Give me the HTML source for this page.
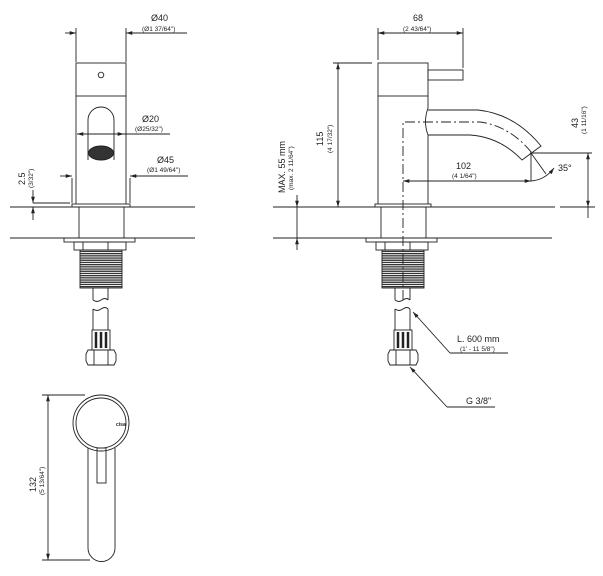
<!DOCTYPE html>
<html><head><style>
html,body{margin:0;padding:0;background:#fff;}
svg{display:block;}
text{font-family:"Liberation Sans",sans-serif;fill:#222;}
.s{font-size:9px}
.t{font-size:6.5px}
</style></head><body>
<svg width="603" height="576" viewBox="0 0 603 576" xmlns="http://www.w3.org/2000/svg">
<defs>
<marker id="a" viewBox="0 0 10 10" refX="10" refY="5" markerWidth="7" markerHeight="7" orient="auto-start-reverse"><path d="M0,2 L10,5 L0,8 z" fill="#222"/></marker>
<pattern id="th" width="4" height="2.2" patternUnits="userSpaceOnUse"><rect width="4" height="2.2" fill="#fff"/><rect width="4" height="1.3" fill="#333"/></pattern>
</defs>
<g fill="none" stroke="#222" stroke-width="0.9">
<!-- deck lines -->
<line x1="10" y1="207" x2="195" y2="207"/><line x1="10" y1="238" x2="195" y2="238"/>
<line x1="273" y1="207" x2="555" y2="207"/><line x1="560" y1="207" x2="595" y2="207"/>
<line x1="273" y1="238" x2="552" y2="238"/>

<!-- LEFT FRONT VIEW -->
<rect x="76" y="63" width="50" height="33"/>
<circle cx="101" cy="75" r="2.8"/>
<line x1="76" y1="96" x2="76" y2="204"/><line x1="126" y1="96" x2="126" y2="204"/>
<path d="M88,160 V120 A13,13 0 0 1 114,120 V160"/>
<ellipse cx="101" cy="153" rx="12.5" ry="7" fill="#333"/>
<rect x="72" y="204" width="58" height="3"/>
<line x1="79" y1="207" x2="79" y2="238"/><line x1="124" y1="207" x2="124" y2="238"/>
<rect x="64" y="238" width="71" height="4"/>
<rect x="74" y="242" width="52" height="8"/><line x1="83" y1="242" x2="83" y2="250"/><line x1="108" y1="242" x2="108" y2="250"/>
<rect x="80" y="250" width="42" height="38" fill="url(#th)"/>
<path d="M93,288 V300 M108,288 V300 M93,300 q4,3 8,0 t7,0 M93,309 q4,3 8,0 t7,0 M93,309 V330 M108,309 V330"/>
<rect x="92" y="330" width="18" height="20"/><line x1="96" y1="332" x2="96" y2="348" stroke-width="2.5"/><line x1="101" y1="332" x2="101" y2="348" stroke-width="2.5"/><line x1="106" y1="332" x2="106" y2="348" stroke-width="2.5"/>
<path d="M88,350 H114 L116,354 V361 L114,365 H88 L86,361 V354 Z"/><line x1="94" y1="350" x2="94" y2="365"/><line x1="108" y1="350" x2="108" y2="365"/>
<!-- dims left -->
<line x1="76" y1="28" x2="76" y2="62"/><line x1="126" y1="28" x2="126" y2="62"/>
<line x1="65" y1="33" x2="76" y2="33" marker-end="url(#a)"/><line x1="137" y1="33" x2="126" y2="33" marker-end="url(#a)"/><line x1="126" y1="33" x2="187" y2="33"/>
<line x1="77" y1="134" x2="124" y2="134" marker-start="url(#a)" marker-end="url(#a)"/><line x1="124" y1="134" x2="170" y2="134"/>
<line x1="72" y1="178" x2="72" y2="203"/><line x1="130" y1="178" x2="130" y2="203"/>
<line x1="60" y1="176" x2="72" y2="176" marker-end="url(#a)"/><line x1="142" y1="176" x2="130" y2="176" marker-end="url(#a)"/><line x1="130" y1="176" x2="188" y2="176"/>
<line x1="33" y1="190" x2="33" y2="203" marker-end="url(#a)"/><line x1="33" y1="220" x2="33" y2="207" marker-end="url(#a)"/><line x1="33" y1="203" x2="70" y2="203"/>

<!-- MIDDLE SIDE VIEW -->
<rect x="378" y="63" width="50" height="33"/>
<rect x="428" y="70" width="35" height="10"/>
<line x1="378" y1="96" x2="378" y2="204"/>
<path d="M428,96 V108 Q423,122 428,135 V204"/>
<path d="M428,110 H478 Q515,114 541,146 L522,160 Q500,137 470,135 H428"/>
<rect x="375" y="204" width="56" height="3"/>
<line x1="381" y1="207" x2="381" y2="238"/><line x1="426" y1="207" x2="426" y2="238"/>
<rect x="366" y="238" width="71" height="4"/>
<rect x="376" y="242" width="52" height="8"/><line x1="385" y1="242" x2="385" y2="250"/><line x1="410" y1="242" x2="410" y2="250"/>
<rect x="382" y="250" width="42" height="38" fill="url(#th)"/>
<path d="M395,288 V300 M410,288 V300 M395,300 q4,3 8,0 t7,0 M395,309 q4,3 8,0 t7,0 M395,309 V330 M410,309 V330"/>
<rect x="394" y="330" width="18" height="20"/><line x1="398" y1="332" x2="398" y2="348" stroke-width="2.5"/><line x1="403" y1="332" x2="403" y2="348" stroke-width="2.5"/><line x1="408" y1="332" x2="408" y2="348" stroke-width="2.5"/>
<path d="M390,350 H416 L418,354 V361 L416,365 H390 L388,361 V354 Z"/><line x1="396" y1="350" x2="396" y2="365"/><line x1="410" y1="350" x2="410" y2="365"/>
<!-- centerline -->
<path d="M403,300 V122 H480 Q510,126 532,153" stroke-dasharray="10,3,2,3"/>
<!-- dims middle -->
<line x1="378" y1="28" x2="378" y2="60"/><line x1="463" y1="28" x2="463" y2="68"/>
<line x1="378" y1="33" x2="463" y2="33" marker-start="url(#a)" marker-end="url(#a)"/>
<line x1="333" y1="63" x2="372" y2="63"/>
<line x1="338" y1="63" x2="338" y2="207" marker-start="url(#a)" marker-end="url(#a)"/>
<line x1="297" y1="195" x2="297" y2="207" marker-end="url(#a)"/><line x1="297" y1="250" x2="297" y2="238" marker-end="url(#a)"/><line x1="297" y1="207" x2="297" y2="238"/>
<line x1="403" y1="181" x2="531" y2="181" marker-start="url(#a)" marker-end="url(#a)"/>
<line x1="531" y1="153" x2="531" y2="181"/><line x1="531" y1="153" x2="546" y2="174"/>
<path d="M531,181 Q545,180 554,168" marker-end="url(#a)"/>
<line x1="530" y1="153" x2="592" y2="153"/>
<line x1="588" y1="153" x2="588" y2="207" marker-start="url(#a)" marker-end="url(#a)"/><line x1="588" y1="207" x2="588" y2="218"/>
<!-- leaders -->
<line x1="450" y1="353" x2="413" y2="312" marker-end="url(#a)"/><line x1="450" y1="353" x2="508" y2="353"/>
<line x1="447" y1="407" x2="410" y2="367" marker-end="url(#a)"/><line x1="447" y1="407" x2="495" y2="407"/>

<!-- BOTTOM TOP VIEW -->
<circle cx="101" cy="423" r="28"/><circle cx="101" cy="423" r="25"/>
<path d="M88,448 V548 A13.5,13.5 0 0 0 115,548 V448"/>
<rect x="97" y="448" width="9" height="35"/>
<line x1="42" y1="395" x2="85" y2="395"/><line x1="42" y1="560" x2="90" y2="560"/>
<line x1="48" y1="395" x2="48" y2="560" marker-start="url(#a)" marker-end="url(#a)"/>
</g>
<text x="116" y="426" style="font-size:5px;font-weight:bold">cisa</text>

<!-- texts -->
<text class="s" x="151" y="21">Ø40</text><text class="t" x="142" y="31">(Ø1 37/64")</text>
<text class="s" x="142" y="122">Ø20</text><text class="t" x="135" y="131">(Ø25/32")</text>
<text class="s" x="157" y="163">Ø45</text><text class="t" x="147" y="172">(Ø1 49/64")</text>
<text class="s" transform="translate(25,185) rotate(-90)">2.5</text><text class="t" transform="translate(33,188) rotate(-90)">(3/32")</text>
<text class="s" x="413" y="21">68</text><text class="t" x="403" y="31">(2 43/64")</text>
<text class="s" transform="translate(323,146) rotate(-90)">115</text><text class="t" transform="translate(332,153) rotate(-90)">(4 17/32")</text>
<text class="s" transform="translate(285,193) rotate(-90)">MAX. 55 mm</text><text class="t" transform="translate(293,190) rotate(-90)">(max. 2 11/64")</text>
<text class="s" x="456" y="169">102</text><text class="t" x="452" y="178">(4 1/64")</text>
<text class="s" x="558" y="171">35°</text>
<text class="s" transform="translate(578,128) rotate(-90)">43</text><text class="t" transform="translate(586,134) rotate(-90)">(1 11/16")</text>
<text class="s" x="457" y="342">L. 600 mm</text><text class="t" x="460" y="351">(1' - 11 5/8")</text>
<text class="s" x="466" y="404">G 3/8"</text>
<text class="s" transform="translate(36,492) rotate(-90)">132</text><text class="t" transform="translate(44,495) rotate(-90)">(5 13/64")</text>
</svg>
</body></html>
